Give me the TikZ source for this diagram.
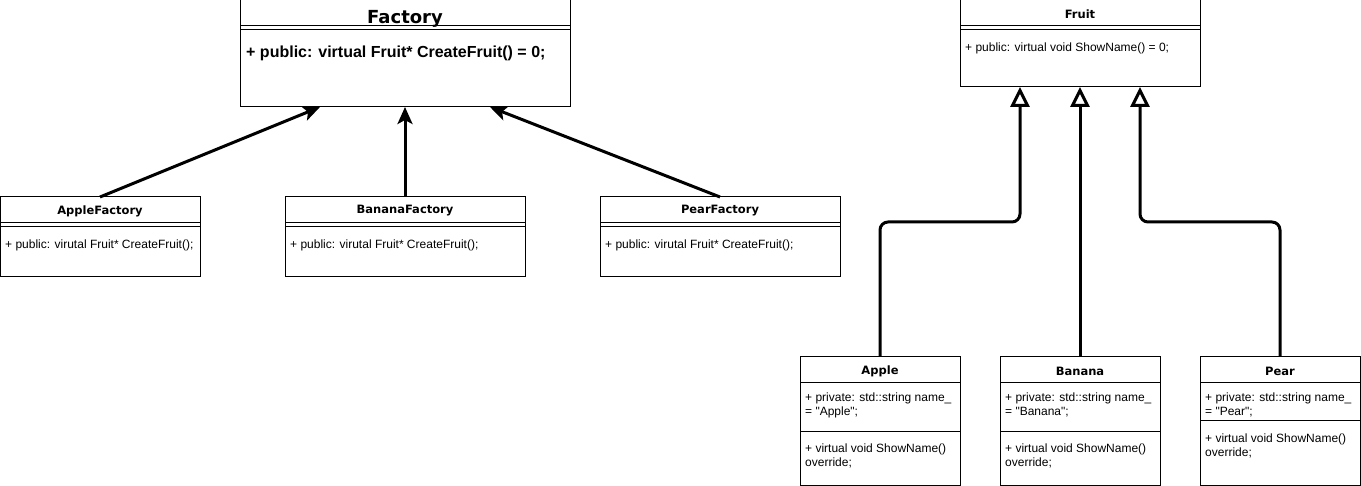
\documentclass[tikz,border=0pt]{standalone}
\usepackage{fontspec}
\setmainfont{Liberation Sans}
\newfontfamily\titlefont{DejaVu Sans}
\usetikzlibrary{arrows.meta,calc}
\newcommand{\dq}{\textquotedbl}
\tikzset{
  box/.style={draw=black, line width=1pt, fill=white, inner sep=0pt, outer sep=0pt, anchor=north west},
  sep/.style={draw=black, line width=1pt},
  bigtitle/.style={font=\titlefont\bfseries\fontsize{18}{20}\selectfont, inner sep=0pt},
  ctitle/.style={font=\titlefont\bfseries\fontsize{11.5}{13}\selectfont, inner sep=0pt},
  body/.style={font=\fontsize{12}{14}\selectfont, inner sep=0pt, anchor=west, align=left},
  bigbody/.style={font=\bfseries\fontsize{16}{18}\selectfont, inner sep=0pt, anchor=west},
  facarrow/.style={draw=black, line width=3pt, -{Stealth[length=17pt,width=15pt,inset=4pt]}},
  inharrow/.style={draw=black, line width=3pt, rounded corners=8pt, line join=round,
     -{Triangle[length=20pt,width=19pt,fill=white,line width=3pt]}}
}
\begin{document}
\begin{tikzpicture}[x=1pt,y=-1pt]
\path[use as bounding box, fill=white] (0,0) rectangle (1361,486);

% ---------- Factory ----------
\node[box, minimum width=330, minimum height=107] (factory) at (240,0) {};
\node[bigtitle] (factoryt) at (405,18.5) {Factory};
\draw[sep] (240,26) -- (570,26);
\draw[sep] (240,30) -- (570,30);
\node[bigbody] (factoryb) at (246,53) {+ public: virtual Fruit* CreateFruit() = 0;};

% ---------- Factories ----------
\node[box, minimum width=200, minimum height=80] (applef) at (0,197) {};
\node[ctitle] (appleft) at (100,211) {AppleFactory};
\draw[sep] (0,223) -- (200,223);
\draw[sep] (0,227) -- (200,227);
\node[body] (applefb) at (5,245) {+ public: virutal Fruit* CreateFruit();};

\node[box, minimum width=240, minimum height=80] (bananaf) at (285,197) {};
\node[ctitle] (bananaft) at (405,211) {BananaFactory};
\draw[sep] (285,223) -- (525,223);
\draw[sep] (285,227) -- (525,227);
\node[body] (bananafb) at (290,245) {+ public: virutal Fruit* CreateFruit();};

\node[box, minimum width=240, minimum height=80] (pearf) at (600,197) {};
\node[ctitle] (pearft) at (720,211) {PearFactory};
\draw[sep] (600,223) -- (840,223);
\draw[sep] (600,227) -- (840,227);
\node[body] (pearfb) at (605,245) {+ public: virutal Fruit* CreateFruit();};

\coordinate (fa1) at (320,107);
\coordinate (fa2) at (405,107);
\coordinate (fa3) at (490,107);
\draw[facarrow] (applef.north) -- (fa1);
\draw[facarrow] (bananaf.north) -- (fa2);
\draw[facarrow] (pearf.north) -- (fa3);

% ---------- Fruit ----------
\node[box, minimum width=240, minimum height=87] (fruit) at (960,0) {};
\node[ctitle] (fruitt) at (1080,14) {Fruit};
\draw[sep] (960,26) -- (1200,26);
\draw[sep] (960,30) -- (1200,30);
\node[body] (fruitb) at (965,48) {+ public: virtual void ShowName() = 0;};

% ---------- Apple ----------
\node[box, minimum width=160, minimum height=128] (apple) at (800,357) {};
\node[ctitle] (applet) at (880,371) {Apple};
\draw[sep] (800,383) -- (960,383);
\node[body] (applea) at (805,405) {+ private: std::string name\_\\= \dq Apple\dq;};
\draw[sep] (800,431) -- (960,431);
\node[body] (applem) at (805,456) {+ virtual void ShowName()\\override;};

% ---------- Banana ----------
\node[box, minimum width=160, minimum height=128] (banana) at (1000,357) {};
\node[ctitle] (bananat) at (1080,371) {Banana};
\draw[sep] (1000,383) -- (1160,383);
\node[body] (bananaa) at (1005,405) {+ private: std::string name\_\\= \dq Banana\dq;};
\draw[sep] (1000,431) -- (1160,431);
\node[body] (bananam) at (1005,456) {+ virtual void ShowName()\\override;};

% ---------- Pear ----------
\node[box, minimum width=160, minimum height=128] (pear) at (1200,357) {};
\node[ctitle] (peart) at (1280,371) {Pear};
\draw[sep] (1200,383) -- (1360,383);
\node[body] (peara) at (1205,405) {+ private: std::string name\_\\= \dq Pear\dq;};
\draw[sep] (1200,421) -- (1360,421);
\node[body] (pearm) at (1205,446) {+ virtual void ShowName()\\override;};

\coordinate (fr1) at (1020,87);
\coordinate (fr2) at (1080,87);
\coordinate (fr3) at (1140,87);
\draw[inharrow] (apple.north) -- ++(0,-135) -| (fr1);
\draw[inharrow] (banana.north) -- (fr2);
\draw[inharrow] (pear.north) -- ++(0,-135) -| (fr3);
\end{tikzpicture}
\end{document}
